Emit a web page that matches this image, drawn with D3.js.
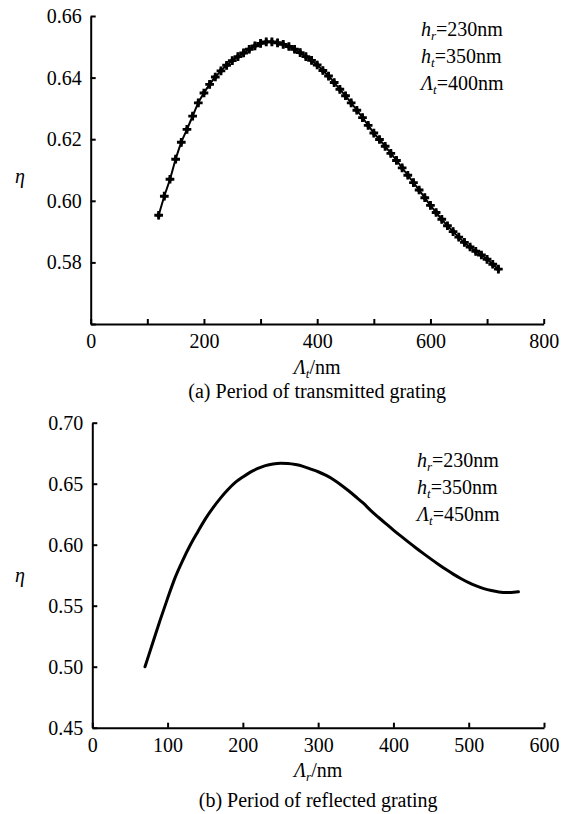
<!DOCTYPE html>
<html><head><meta charset="utf-8">
<script src="https://cdn.jsdelivr.net/npm/d3@7"></script>
<style>
body{margin:0;background:#fff;}
svg text{font-family:"Liberation Serif","Times New Roman",Times,serif;fill:#000;}
</style>
</head><body>
<svg id="c" width="573" height="814"></svg>
<script>
// ---- Data: (a) period of transmitted grating ----
const periodA = [120,130,140,150,160,170,180,190,200,210,220,230,240,250,260,270,280,290,300,310,320,330,340,350,360,370,380,390,400,410,420,430,440,450,460,470,480,490,500,510,520,530,540,550,560,570,580,590,600,610,620,630,640,650,660,670,680,690,700,710,720];
const etaA = [0.5953,0.6015,0.6070,0.6135,0.6190,0.6232,0.6275,0.6318,0.6350,0.6378,0.6402,0.6422,0.6440,0.6455,0.6468,0.6480,0.6492,0.6503,0.6511,0.6516,0.6516,0.6513,0.6508,0.6501,0.6492,0.6481,0.6468,0.6456,0.6441,0.6423,0.6405,0.6384,0.6362,0.6341,0.6318,0.6294,0.6270,0.6245,0.6220,0.6199,0.6177,0.6154,0.6131,0.6107,0.6083,0.6059,0.6035,0.6010,0.5985,0.5962,0.5940,0.5919,0.5900,0.5882,0.5865,0.5850,0.5836,0.5824,0.5810,0.5794,0.5778];
const xTicksA = [0,100,200,300,400,500,600,700,800];
const xLabelsA = ["0","","200","","400","","600","","800"];
const yTicksA = [0.56,0.58,0.60,0.62,0.64,0.66];
const yLabelsA = ["","0.58","0.60","0.62","0.64","0.66"];
const annA = [["h","r","=230nm"],["h","t","=350nm"],["Λ","t","=400nm"]];

// ---- Data: (b) period of reflected grating ----
const periodB = [70,80,90,100,110,120,130,140,150,160,170,180,190,200,210,220,230,240,250,260,270,280,290,300,310,320,330,340,350,360,370,380,390,400,410,420,430,440,450,460,470,480,490,500,510,520,530,540,550,560,566];
const etaB = [0.500,0.519,0.538,0.556,0.573,0.587,0.5995,0.6105,0.621,0.630,0.638,0.645,0.651,0.6555,0.6595,0.6625,0.6648,0.6662,0.6668,0.6666,0.6657,0.6642,0.6620,0.6598,0.6570,0.6535,0.6492,0.6444,0.6393,0.6340,0.6280,0.6225,0.6172,0.6120,0.6070,0.6021,0.5973,0.5927,0.5882,0.5838,0.5796,0.5757,0.5721,0.5689,0.5662,0.5640,0.5624,0.5613,0.5608,0.5610,0.5614];
const xTicksB = [0,100,200,300,400,500,600];
const xLabelsB = ["0","100","200","300","400","500","600"];
const yTicksB = [0.45,0.50,0.55,0.60,0.65,0.70];
const yLabelsB = ["0.45","0.50","0.55","0.60","0.65","0.70"];
const annB = [["h","r","=230nm"],["h","t","=350nm"],["Λ","t","=450nm"]];

const svg = d3.select("#c");
svg.append("rect").attr("width",573).attr("height",814).attr("fill","#fff");

function panel(cfg){
  const g = svg.append("g");
  const x = d3.scaleLinear().domain(cfg.xDom).range(cfg.xRange);
  const y = d3.scaleLinear().domain(cfg.yDom).range(cfg.yRange);
  const xa = d3.axisBottom(x).tickValues(cfg.xTicks).tickSizeInner(-5).tickSizeOuter(0).tickPadding(10)
    .tickFormat((d,i)=>cfg.xLabels[i]);
  const ya = d3.axisLeft(y).tickValues(cfg.yTicks).tickSizeInner(-5).tickSizeOuter(0).tickPadding(9)
    .tickFormat((d,i)=>cfg.yLabels[i]);
  const gx = g.append("g").attr("transform",`translate(0,${cfg.yRange[0]})`).call(xa);
  const gy = g.append("g").attr("transform",`translate(${cfg.xRange[0]},0)`).call(ya);
  [gx,gy].forEach(a=>{
    a.attr("font-family",null);
    a.select(".domain").attr("stroke","#000").attr("stroke-width",2);
    a.selectAll(".tick line").attr("stroke","#000").attr("stroke-width",2);
    a.selectAll(".tick text").attr("font-size",20);
  });
  const pts = cfg.xs.map((v,i)=>[v,cfg.ys[i]]);
  const line = d3.line().x(d=>x(d[0])).y(d=>y(d[1])).curve(d3.curveMonotoneX);
  g.append("path").datum(pts).attr("d",line).attr("fill","none").attr("stroke","#000")
    .attr("stroke-width",cfg.lw).attr("stroke-linejoin","round").attr("stroke-linecap","round");
  if(cfg.markers){
    g.selectAll("path.mk").data(pts).join("path").attr("class","mk")
      .attr("transform",d=>`translate(${x(d[0])},${y(d[1])})`)
      .attr("d",d3.symbol(d3.symbolCross,42)).attr("fill","#000");
    g.selectAll("path.mk2").data(pts).join("path").attr("class","mk2")
      .attr("transform",d=>`translate(${x(d[0])},${y(d[1])})`)
      .attr("d",d3.symbol(d3.symbolDiamond,22)).attr("fill","#000");
  }
  g.append("text").attr("x",20).attr("y",cfg.etaY).attr("text-anchor","middle")
    .attr("font-size",20).attr("font-style","italic").text("η");
  const xt = g.append("text").attr("x",(cfg.xRange[0]+cfg.xRange[1])/2).attr("y",cfg.xTitleY)
    .attr("text-anchor","middle").attr("font-size",20);
  xt.append("tspan").attr("font-style","italic").text("Λ");
  xt.append("tspan").attr("font-style","italic").attr("font-size",13).attr("dy",4).text(cfg.xSub);
  xt.append("tspan").attr("dy",-4).text("/nm");
  g.append("text").attr("x",(cfg.xRange[0]+cfg.xRange[1])/2).attr("y",cfg.capY)
    .attr("text-anchor","middle").attr("font-size",20).text(cfg.caption);
  cfg.ann.forEach((a,i)=>{
    const t = g.append("text").attr("x",cfg.annX).attr("y",cfg.annY+i*27).attr("font-size",20);
    t.append("tspan").attr("font-style","italic").text(a[0]);
    t.append("tspan").attr("font-style","italic").attr("font-size",13).attr("dy",4).text(a[1]);
    t.append("tspan").attr("dy",-4).text(a[2]);
  });
}

panel({xDom:[0,800],xRange:[90.7,543.7],yDom:[0.56,0.66],yRange:[324,16],
  xTicks:xTicksA,xLabels:xLabelsA,yTicks:yTicksA,yLabels:yLabelsA,
  xs:periodA,ys:etaA,lw:2,markers:true,etaY:183,xTitleY:374,xSub:"t",
  capY:398,caption:"(a) Period of transmitted grating",ann:annA,annX:421,annY:36});

panel({xDom:[0,600],xRange:[92.3,544],yDom:[0.45,0.70],yRange:[727.7,422.7],
  xTicks:xTicksB,xLabels:xLabelsB,yTicks:yTicksB,yLabels:yLabelsB,
  xs:periodB,ys:etaB,lw:3,markers:false,etaY:582,xTitleY:777,xSub:"r",
  capY:807,caption:"(b) Period of reflected grating",ann:annB,annX:417,annY:467});
</script>
</body></html>
